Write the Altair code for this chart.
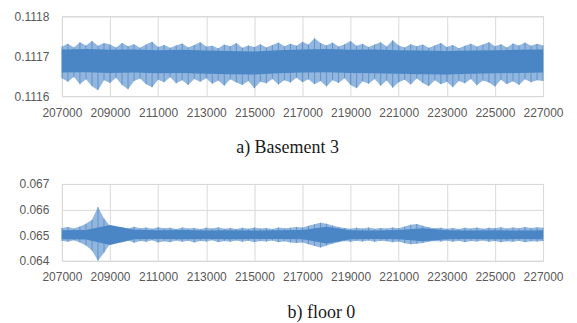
import altair as alt
import pandas as pd

X_START, X_END, X_STEP = 207000, 227000, 250
x_vals = list(range(X_START, X_END + 1, X_STEP))
core_x = list(range(X_START, X_END + 1, 1000))
x_ticks = list(range(207000, 227001, 2000))

# ---- a) Basement 3 : envelope of the signal ----
hi_a = [0.111724, 0.111731, 0.111722, 0.111735, 0.111727, 0.111738, 0.111726, 0.111733, 0.111729, 0.111722,
        0.111733, 0.111725, 0.111730, 0.111721, 0.111729, 0.111736, 0.111723, 0.111728, 0.111721, 0.111727,
        0.111732, 0.111722, 0.111728, 0.111735, 0.111724, 0.111726, 0.111720, 0.111729, 0.111725, 0.111733,
        0.111721, 0.111727, 0.111723, 0.111730, 0.111722, 0.111728, 0.111734, 0.111725, 0.111731, 0.111726,
        0.111736, 0.111729, 0.111745, 0.111733, 0.111727, 0.111734, 0.111724, 0.111730, 0.111738, 0.111726,
        0.111731, 0.111723, 0.111729, 0.111735, 0.111724, 0.111740, 0.111727, 0.111722, 0.111730, 0.111725,
        0.111729, 0.111721, 0.111727, 0.111733, 0.111723, 0.111728, 0.111720, 0.111726, 0.111731, 0.111724,
        0.111729, 0.111735, 0.111725, 0.111730, 0.111722, 0.111732, 0.111727, 0.111734, 0.111726, 0.111731,
        0.111727]
lo_a = [0.111645, 0.111636, 0.111648, 0.111630, 0.111642, 0.111625, 0.111615, 0.111640, 0.111633, 0.111646,
        0.111628, 0.111617, 0.111638, 0.111644, 0.111630, 0.111622, 0.111641, 0.111635, 0.111647, 0.111632,
        0.111640, 0.111628, 0.111643, 0.111636, 0.111645, 0.111631, 0.111639, 0.111626, 0.111642, 0.111634,
        0.111628, 0.111638, 0.111620, 0.111636, 0.111632, 0.111643, 0.111629, 0.111640, 0.111634, 0.111646,
        0.111635, 0.111642, 0.111630, 0.111638, 0.111624, 0.111640, 0.111633, 0.111645, 0.111628, 0.111620,
        0.111637, 0.111631, 0.111643, 0.111626, 0.111639, 0.111621, 0.111635, 0.111641, 0.111629, 0.111644,
        0.111633, 0.111625, 0.111640, 0.111630, 0.111636, 0.111622, 0.111638, 0.111632, 0.111643, 0.111627,
        0.111639, 0.111634, 0.111624, 0.111641, 0.111630, 0.111637, 0.111628, 0.111642, 0.111635, 0.111640,
        0.111638]
core_hi_a = [0.111717, 0.111718, 0.111716, 0.111717, 0.111715, 0.111716, 0.111714, 0.111713, 0.111712, 0.111715,
             0.111717, 0.111718, 0.111716, 0.111717, 0.111715, 0.111714, 0.111713, 0.111714, 0.111715, 0.111716,
             0.111717]
core_lo_a = [0.111659, 0.111660, 0.111658, 0.111659, 0.111657, 0.111658, 0.111656, 0.111655, 0.111654, 0.111657,
             0.111659, 0.111660, 0.111658, 0.111657, 0.111656, 0.111655, 0.111654, 0.111656, 0.111657, 0.111658,
             0.111659]

# ---- b) floor 0 ----
hi_b = [0.06528, 0.06532, 0.06526, 0.06534, 0.06545, 0.06560, 0.06610, 0.06565, 0.06536, 0.06529,
        0.06531, 0.06526, 0.06533, 0.06527, 0.06530, 0.06525, 0.06531, 0.06527, 0.06529, 0.06524,
        0.06530, 0.06526, 0.06528, 0.06524, 0.06529, 0.06526, 0.06531, 0.06525, 0.06528, 0.06524,
        0.06529, 0.06525, 0.06530, 0.06526, 0.06528, 0.06524, 0.06530, 0.06527, 0.06529, 0.06532,
        0.06530, 0.06537, 0.06543, 0.06549, 0.06545, 0.06538, 0.06532, 0.06528, 0.06525, 0.06529,
        0.06526, 0.06530, 0.06525, 0.06528, 0.06526, 0.06530, 0.06527, 0.06534, 0.06541, 0.06544,
        0.06537, 0.06531, 0.06527, 0.06529, 0.06525, 0.06528, 0.06524, 0.06529, 0.06526, 0.06530,
        0.06525, 0.06529, 0.06527, 0.06531, 0.06526, 0.06530, 0.06527, 0.06532, 0.06528, 0.06531,
        0.06529]
lo_b = [0.06478, 0.06474, 0.06480, 0.06472, 0.06460, 0.06440, 0.06400, 0.06432, 0.06466, 0.06476,
        0.06473, 0.06479, 0.06471, 0.06477, 0.06474, 0.06480, 0.06472, 0.06476, 0.06473, 0.06479,
        0.06474, 0.06478, 0.06472, 0.06477, 0.06475, 0.06480, 0.06473, 0.06477, 0.06474, 0.06479,
        0.06474, 0.06478, 0.06473, 0.06477, 0.06475, 0.06479, 0.06473, 0.06476, 0.06472, 0.06470,
        0.06472, 0.06465, 0.06458, 0.06452, 0.06460, 0.06467, 0.06473, 0.06477, 0.06474, 0.06478,
        0.06475, 0.06479, 0.06474, 0.06478, 0.06476, 0.06473, 0.06475, 0.06469, 0.06465, 0.06467,
        0.06470, 0.06474, 0.06477, 0.06475, 0.06479, 0.06474, 0.06478, 0.06473, 0.06477, 0.06475,
        0.06479, 0.06474, 0.06477, 0.06473, 0.06476, 0.06474, 0.06478, 0.06473, 0.06476, 0.06475,
        0.06477]
core_hi_b = [0.06519, 0.06520, 0.06540, 0.06521, 0.06519, 0.06520, 0.06518, 0.06519, 0.06518, 0.06519,
             0.06520, 0.06533, 0.06519, 0.06518, 0.06520, 0.06527, 0.06519, 0.06518, 0.06519, 0.06518,
             0.06519]
core_lo_b = [0.06484, 0.06483, 0.06462, 0.06484, 0.06485, 0.06484, 0.06485, 0.06484, 0.06485, 0.06485,
             0.06484, 0.06468, 0.06484, 0.06485, 0.06484, 0.06476, 0.06484, 0.06485, 0.06484, 0.06485,
             0.06484]

BLUE = "#4a86c6"
SANS = "Arial, Liberation Sans, sans-serif"
SERIF = "Times New Roman, Liberation Serif, serif"


def panel(hi, lo, chi, clo, domain, yticks, yfmt, title, h, dx):
    xenc = alt.X("x:Q", scale=alt.Scale(domain=[X_START, X_END], nice=False, zero=False),
                 axis=alt.Axis(values=x_ticks, format="d", title=None, labelOverlap=False,
                               labelFlush=False, labelPadding=11))
    yscale = alt.Scale(domain=domain, nice=False, zero=False)
    yaxis = alt.Axis(values=yticks, format=yfmt, title=None, labelPadding=13)
    env = pd.DataFrame({"x": x_vals, "hi": hi, "lo": lo})
    fringe = alt.Chart(env).mark_area(color=BLUE, opacity=0.6).encode(
        x=xenc, y=alt.Y("hi:Q", scale=yscale, axis=yaxis), y2="lo:Q")
    needles = alt.Chart(env).mark_rule(color=BLUE, opacity=0.7, strokeWidth=1).encode(
        x=xenc, y=alt.Y("hi:Q", scale=yscale, axis=yaxis), y2="lo:Q")
    core = alt.Chart(pd.DataFrame({"x": core_x, "hi": chi, "lo": clo})).mark_area(
        color=BLUE, opacity=1.0
    ).encode(x=xenc, y=alt.Y("hi:Q", scale=yscale, axis=yaxis), y2="lo:Q")
    return alt.layer(fringe, needles, core).properties(
        width=482, height=h,
        title=alt.TitleParams(title, orient="bottom", anchor="middle", font=SERIF,
                              fontSize=18, fontWeight="normal", color="#1a1a1a", offset=21, dx=dx),
    )


pa = panel(hi_a, lo_a, core_hi_a, core_lo_a, [0.1116, 0.1118], [0.1116, 0.1117, 0.1118], ".4f",
           "a) Basement 3", 80, -15)
pb = panel(hi_b, lo_b, core_hi_b, core_lo_b, [0.064, 0.067], [0.064, 0.065, 0.066, 0.067], ".3f",
           "b) floor 0", 77, 19)

chart = alt.vconcat(pa, pb, spacing=19).properties(
    padding={"left": 5, "top": 1, "right": 5, "bottom": 2}
).configure_axis(
    labelFont=SANS, labelFontSize=12, labelColor="#595959",
    grid=True, gridColor="#d9d9d9", domain=False, ticks=False,
).configure_view(stroke="#cfcfcf")

chart.save("out.html", embed_options={"renderer": "svg", "actions": False})
